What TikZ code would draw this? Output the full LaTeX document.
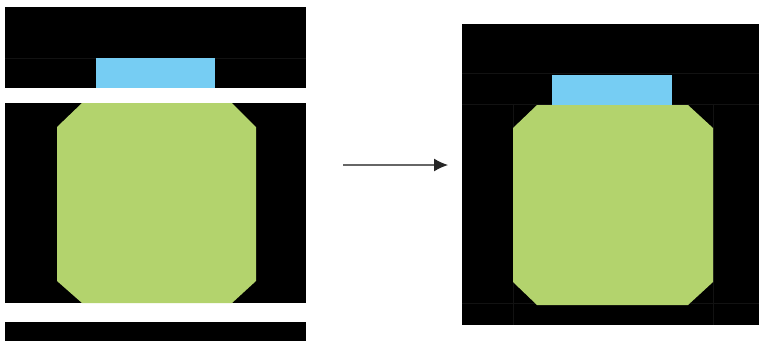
\documentclass[tikz,border=0pt]{standalone}
\usetikzlibrary{arrows.meta}
\definecolor{pad}{HTML}{B3D36D}
\definecolor{cap}{HTML}{76CDF3}
\definecolor{gridl}{HTML}{121212}
\tikzset{
  band/.style={fill=black},
  padshape/.style={fill=pad},
  capshape/.style={fill=cap},
  faint/.style={draw=gridl,line width=0.5pt},
  flow/.style={draw=black!60,line width=1.3pt,-{Latex[length=14pt,width=13pt,color=black!85]}}
}
\begin{document}
\begin{tikzpicture}[x=1pt,y=-1pt]
\useasboundingbox (0,0) rectangle (759,341);
\fill[white] (0,0) rectangle (759,341);
% left panel
\fill[band] (5,7) rectangle (306,88);
\fill[band] (5,103) rectangle (306,303);
\fill[band] (5,322) rectangle (306,341);
\draw[faint] (5,58) -- (96,58);
\draw[faint] (215,58) -- (306,58);
\fill[capshape] (96,58) rectangle (215,88);
\fill[padshape] (82,103) -- (232,103) -- (256,127) -- (256,281) -- (232,303) -- (82,303) -- (57,281) -- (57,127) -- cycle;
% arrow
\coordinate (a) at (343,165);
\coordinate (b) at (448,165);
\draw[flow] (a) -- (b);
% right panel
\fill[band] (462,24) rectangle (759,325);
\draw[faint] (462,73) -- (759,73);
\draw[faint] (462,104) -- (759,104);
\draw[faint] (462,303) -- (759,303);
\draw[faint] (513,104) -- (513,325);
\draw[faint] (713,104) -- (713,325);
\fill[capshape] (552,75) rectangle (672,105);
\fill[padshape] (537,105) -- (688,105) -- (713,128) -- (713,282) -- (688,305) -- (537,305) -- (513,282) -- (513,128) -- cycle;
\end{tikzpicture}
\end{document}
